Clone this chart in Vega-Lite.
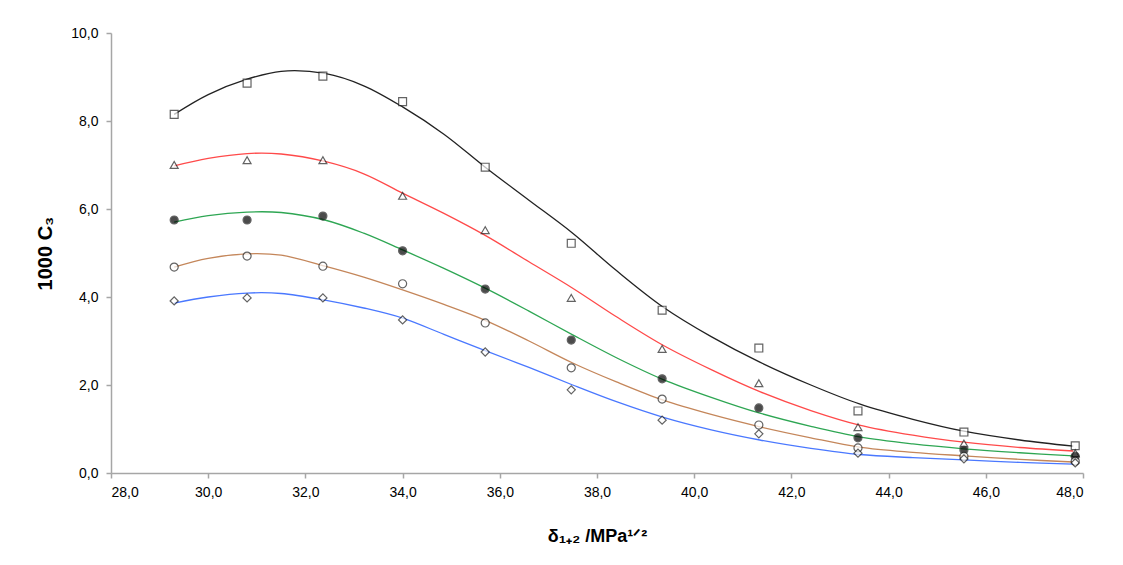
{
  "$schema": "https://vega.github.io/schema/vega-lite/v6.json",
  "width": 972,
  "height": 440,
  "autosize": {"type": "none"},
  "padding": {"left": 111, "top": 33, "right": 40, "bottom": 92},
  "background": "white",
  "config": {
    "view": {"stroke": null},
    "font": "Liberation Sans",
    "axis": {
      "domainColor": "#a6a6a6",
      "domainWidth": 1.5,
      "tickColor": "#a6a6a6",
      "tickWidth": 1.5,
      "tickSize": 5,
      "grid": false,
      "labelFont": "Liberation Sans",
      "labelFontSize": 14,
      "labelColor": "#000000",
      "titleFont": "Liberation Sans",
      "titleFontSize": 18,
      "titleFontWeight": "bold",
      "titleColor": "#000000"
    }
  },
  "datasets": {
    "pts": [
      {"s": "A", "x": 29.3, "y": 8.15}, {"s": "A", "x": 30.8, "y": 8.86}, {"s": "A", "x": 32.36, "y": 9.02}, {"s": "A", "x": 34.0, "y": 8.44}, {"s": "A", "x": 35.7, "y": 6.95}, {"s": "A", "x": 37.47, "y": 5.22}, {"s": "A", "x": 39.34, "y": 3.70}, {"s": "A", "x": 41.33, "y": 2.84}, {"s": "A", "x": 43.37, "y": 1.41}, {"s": "A", "x": 45.55, "y": 0.93}, {"s": "A", "x": 47.84, "y": 0.62},
      {"s": "B", "x": 29.3, "y": 7.0}, {"s": "B", "x": 30.8, "y": 7.11}, {"s": "B", "x": 32.36, "y": 7.11}, {"s": "B", "x": 34.0, "y": 6.30}, {"s": "B", "x": 35.7, "y": 5.52}, {"s": "B", "x": 37.47, "y": 3.98}, {"s": "B", "x": 39.34, "y": 2.82}, {"s": "B", "x": 41.33, "y": 2.04}, {"s": "B", "x": 43.37, "y": 1.04}, {"s": "B", "x": 45.55, "y": 0.67}, {"s": "B", "x": 47.84, "y": 0.45},
      {"s": "C", "x": 29.3, "y": 5.75}, {"s": "C", "x": 30.8, "y": 5.75}, {"s": "C", "x": 32.36, "y": 5.84}, {"s": "C", "x": 34.0, "y": 5.05}, {"s": "C", "x": 35.7, "y": 4.18}, {"s": "C", "x": 37.47, "y": 3.02}, {"s": "C", "x": 39.34, "y": 2.14}, {"s": "C", "x": 41.33, "y": 1.48}, {"s": "C", "x": 43.37, "y": 0.80}, {"s": "C", "x": 45.55, "y": 0.52}, {"s": "C", "x": 47.84, "y": 0.38},
      {"s": "D", "x": 29.3, "y": 4.68}, {"s": "D", "x": 30.8, "y": 4.93}, {"s": "D", "x": 32.36, "y": 4.70}, {"s": "D", "x": 34.0, "y": 4.30}, {"s": "D", "x": 35.7, "y": 3.41}, {"s": "D", "x": 37.47, "y": 2.39}, {"s": "D", "x": 39.34, "y": 1.68}, {"s": "D", "x": 41.33, "y": 1.09}, {"s": "D", "x": 43.37, "y": 0.57}, {"s": "D", "x": 45.55, "y": 0.38}, {"s": "D", "x": 47.84, "y": 0.27},
      {"s": "E", "x": 29.3, "y": 3.91}, {"s": "E", "x": 30.8, "y": 3.98}, {"s": "E", "x": 32.36, "y": 3.98}, {"s": "E", "x": 34.0, "y": 3.48}, {"s": "E", "x": 35.7, "y": 2.75}, {"s": "E", "x": 37.47, "y": 1.89}, {"s": "E", "x": 39.34, "y": 1.20}, {"s": "E", "x": 41.33, "y": 0.89}, {"s": "E", "x": 43.37, "y": 0.45}, {"s": "E", "x": 45.55, "y": 0.32}, {"s": "E", "x": 47.84, "y": 0.23}
    ],
    "fit": [
      {"s": "A", "x": 29.3, "y": 8.15}, {"s": "A", "x": 30.0, "y": 8.6}, {"s": "A", "x": 30.8, "y": 8.95}, {"s": "A", "x": 31.5, "y": 9.13}, {"s": "A", "x": 32.4, "y": 9.08}, {"s": "A", "x": 33.2, "y": 8.8}, {"s": "A", "x": 34.0, "y": 8.32}, {"s": "A", "x": 34.85, "y": 7.7}, {"s": "A", "x": 35.7, "y": 6.95}, {"s": "A", "x": 36.6, "y": 6.2}, {"s": "A", "x": 37.5, "y": 5.45}, {"s": "A", "x": 38.4, "y": 4.6}, {"s": "A", "x": 39.35, "y": 3.78}, {"s": "A", "x": 40.35, "y": 3.1}, {"s": "A", "x": 41.35, "y": 2.52}, {"s": "A", "x": 42.4, "y": 2.0}, {"s": "A", "x": 43.4, "y": 1.57}, {"s": "A", "x": 44.5, "y": 1.22}, {"s": "A", "x": 45.55, "y": 0.95}, {"s": "A", "x": 46.7, "y": 0.75}, {"s": "A", "x": 47.8, "y": 0.61},
      {"s": "B", "x": 29.3, "y": 6.98}, {"s": "B", "x": 30.0, "y": 7.15}, {"s": "B", "x": 30.8, "y": 7.26}, {"s": "B", "x": 31.5, "y": 7.25}, {"s": "B", "x": 32.4, "y": 7.08}, {"s": "B", "x": 33.2, "y": 6.8}, {"s": "B", "x": 34.0, "y": 6.36}, {"s": "B", "x": 34.85, "y": 5.9}, {"s": "B", "x": 35.7, "y": 5.4}, {"s": "B", "x": 36.6, "y": 4.8}, {"s": "B", "x": 37.5, "y": 4.2}, {"s": "B", "x": 38.4, "y": 3.55}, {"s": "B", "x": 39.35, "y": 2.91}, {"s": "B", "x": 40.35, "y": 2.35}, {"s": "B", "x": 41.35, "y": 1.85}, {"s": "B", "x": 42.4, "y": 1.42}, {"s": "B", "x": 43.4, "y": 1.09}, {"s": "B", "x": 44.5, "y": 0.86}, {"s": "B", "x": 45.55, "y": 0.70}, {"s": "B", "x": 46.7, "y": 0.58}, {"s": "B", "x": 47.8, "y": 0.50},
      {"s": "C", "x": 29.3, "y": 5.70}, {"s": "C", "x": 30.0, "y": 5.85}, {"s": "C", "x": 30.8, "y": 5.93}, {"s": "C", "x": 31.5, "y": 5.92}, {"s": "C", "x": 32.4, "y": 5.75}, {"s": "C", "x": 33.2, "y": 5.45}, {"s": "C", "x": 34.0, "y": 5.07}, {"s": "C", "x": 34.85, "y": 4.65}, {"s": "C", "x": 35.7, "y": 4.2}, {"s": "C", "x": 36.6, "y": 3.68}, {"s": "C", "x": 37.5, "y": 3.14}, {"s": "C", "x": 38.4, "y": 2.62}, {"s": "C", "x": 39.35, "y": 2.13}, {"s": "C", "x": 40.35, "y": 1.72}, {"s": "C", "x": 41.35, "y": 1.36}, {"s": "C", "x": 42.4, "y": 1.06}, {"s": "C", "x": 43.4, "y": 0.82}, {"s": "C", "x": 44.5, "y": 0.66}, {"s": "C", "x": 45.55, "y": 0.55}, {"s": "C", "x": 46.7, "y": 0.46}, {"s": "C", "x": 47.8, "y": 0.39},
      {"s": "D", "x": 29.3, "y": 4.68}, {"s": "D", "x": 30.0, "y": 4.88}, {"s": "D", "x": 30.8, "y": 4.98}, {"s": "D", "x": 31.5, "y": 4.95}, {"s": "D", "x": 32.4, "y": 4.70}, {"s": "D", "x": 33.2, "y": 4.45}, {"s": "D", "x": 34.0, "y": 4.16}, {"s": "D", "x": 34.85, "y": 3.83}, {"s": "D", "x": 35.7, "y": 3.47}, {"s": "D", "x": 36.6, "y": 3.0}, {"s": "D", "x": 37.5, "y": 2.5}, {"s": "D", "x": 38.4, "y": 2.07}, {"s": "D", "x": 39.35, "y": 1.66}, {"s": "D", "x": 40.35, "y": 1.33}, {"s": "D", "x": 41.35, "y": 1.05}, {"s": "D", "x": 42.4, "y": 0.80}, {"s": "D", "x": 43.4, "y": 0.59}, {"s": "D", "x": 44.5, "y": 0.47}, {"s": "D", "x": 45.55, "y": 0.39}, {"s": "D", "x": 46.7, "y": 0.31}, {"s": "D", "x": 47.8, "y": 0.25},
      {"s": "E", "x": 29.3, "y": 3.86}, {"s": "E", "x": 30.0, "y": 4.0}, {"s": "E", "x": 30.8, "y": 4.09}, {"s": "E", "x": 31.5, "y": 4.08}, {"s": "E", "x": 32.4, "y": 3.93}, {"s": "E", "x": 33.2, "y": 3.75}, {"s": "E", "x": 34.0, "y": 3.52}, {"s": "E", "x": 34.85, "y": 3.15}, {"s": "E", "x": 35.7, "y": 2.78}, {"s": "E", "x": 36.6, "y": 2.4}, {"s": "E", "x": 37.5, "y": 2.0}, {"s": "E", "x": 38.4, "y": 1.62}, {"s": "E", "x": 39.35, "y": 1.27}, {"s": "E", "x": 40.35, "y": 0.98}, {"s": "E", "x": 41.35, "y": 0.75}, {"s": "E", "x": 42.4, "y": 0.56}, {"s": "E", "x": 43.4, "y": 0.42}, {"s": "E", "x": 44.5, "y": 0.35}, {"s": "E", "x": 45.55, "y": 0.30}, {"s": "E", "x": 46.7, "y": 0.24}, {"s": "E", "x": 47.8, "y": 0.20}
    ]
  },
  "encoding": {
    "x": {
      "field": "x", "type": "quantitative",
      "scale": {"domain": [28, 48], "nice": false, "zero": false},
      "axis": {
        "values": [28, 30, 32, 34, 36, 38, 40, 42, 44, 46, 48],
        "labelExpr": "replace(format(datum.value, '.1f'), '.', ',')",
        "labelPadding": 7,
        "title": "δ₁₊₂ /MPa¹ᐟ²",
        "titlePadding": 28
      }
    },
    "y": {
      "field": "y", "type": "quantitative",
      "scale": {"domain": [0, 10], "nice": false},
      "axis": {
        "values": [0, 2, 4, 6, 8, 10],
        "labelExpr": "replace(format(datum.value, '.1f'), '.', ',')",
        "labelPadding": 8,
        "title": "1000 C₃",
        "titleFontSize": 20,
        "titlePadding": 15
      }
    }
  },
  "layer": [
    {
      "data": {"name": "fit"},
      "mark": {"type": "line", "interpolate": "catmull-rom", "strokeWidth": 1.3},
      "encoding": {
        "color": {
          "field": "s", "type": "nominal", "legend": null,
          "scale": {"domain": ["A", "B", "C", "D", "E"], "range": ["#222222", "#ff4a4a", "#2ea653", "#c4865a", "#4a78ff"]}
        }
      }
    },
    {
      "data": {"name": "pts"},
      "mark": {"type": "point", "filled": false, "strokeWidth": 1.2, "stroke": "#222222", "size": 50},
      "encoding": {
        "shape": {
          "field": "s", "type": "nominal", "legend": null,
          "scale": {"domain": ["A", "B", "C", "D", "E"], "range": ["square", "triangle-up", "circle", "circle", "diamond"]}
        },
        "fill": {
          "field": "s", "type": "nominal", "legend": null,
          "scale": {"domain": ["A", "B", "C", "D", "E"], "range": ["#ffffff", "#ffffff", "#000000", "#ffffff", "#ffffff"]}
        },
        "size": {
          "field": "s", "type": "nominal", "legend": null,
          "scale": {"domain": ["A", "B", "C", "D", "E"], "range": [62, 66, 40, 48, 55]}
        }
      }
    }
  ]
}
